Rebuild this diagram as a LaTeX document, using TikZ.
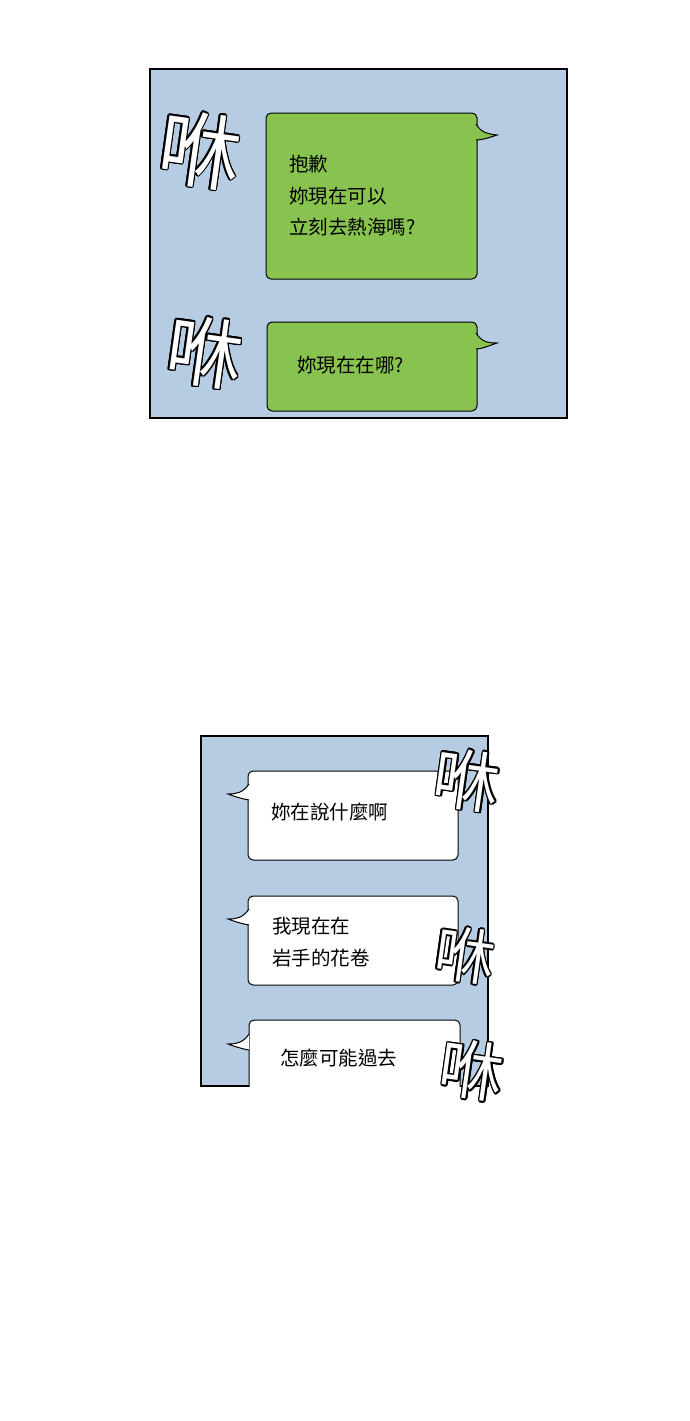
\documentclass[tikz,border=0pt]{standalone}
\usepackage{fontspec}
\newfontfamily\cjk{Noto Sans CJK TC}
\usetikzlibrary{calc}
\definecolor{panelblue}{RGB}{182,204,226}
\definecolor{bubgreen}{RGB}{136,195,80}
\tikzset{
 panel/.style={draw=black,line width=2.5pt,fill=panelblue},
 bub/.style={draw=black,line width=1pt,rounded corners=5pt},
 msg/.style={anchor=north west,align=left,font=\cjk\fontsize{19.5}{31.5}\selectfont,inner sep=0pt},
}
\newcommand{\swish}[4]{% x,y,size,rotation
 \foreach \a in {0,30,...,330}{\node[rotate=#4,font=\cjk\fontsize{#3}{#3}\selectfont,text=black] at ($(#1,#2)+(\a:1.6)$) {咻};}
 \node[rotate=#4,font=\cjk\fontsize{#3}{#3}\selectfont,text=white] at (#1,#2) {咻};}
\begin{document}
\begin{tikzpicture}[x=1pt,y=-1pt]
\useasboundingbox (0,0) rectangle (690,1421);
% panel 1
\draw[panel] (150,69) rectangle (567,418);
\draw[bub,fill=bubgreen] (266,113) rectangle (477,279);
\draw[fill=bubgreen,line width=1pt] (476,124) .. controls (482,134) and (490,134) .. (497,135) .. controls (488,138) and (482,140) .. (476,140);
\draw[bub,fill=bubgreen] (267,322) rectangle (477,411);
\draw[fill=bubgreen,line width=1pt] (476,333) .. controls (482,343) and (490,343) .. (497,343) .. controls (488,346) and (482,349) .. (476,349);
\node[msg] (m1) at (289,155) {抱歉\\妳現在可以\\立刻去熱海嗎?};
\node[msg] (m2) at (297,356) {妳現在在哪?};
\swish{200}{150}{82}{-8}
\swish{205}{352}{76}{-8}
% panel 2
\draw[panel] (201,736) rectangle (488,1086);
\begin{scope}
\clip (201,736) rectangle (488,1086);
\draw[bub,fill=white] (248,771) rectangle (458,860);
\draw[bub,fill=white] (248,896) rectangle (458,985);
\draw[bub,fill=white] (249,1020) rectangle (460,1110);
\end{scope}
\foreach \y in {784,909,1034}{
 \draw[fill=white,line width=1pt] (249,\y) .. controls (243,\y+9) and (236,\y+10) .. (228,\y+10) .. controls (236,\y+13) and (243,\y+15) .. (249,\y+16);}
\node[msg] (m3) at (271,803) {妳在說什麼啊};
\node[msg] (m4) at (272,917) {我現在在\\岩手的花卷};
\node[msg] (m5) at (280,1049) {怎麼可能過去};
\swish{467}{780}{66}{-8}
\swish{465}{955}{60}{-8}
\swish{472}{1070}{64}{-8}
\end{tikzpicture}
\end{document}
